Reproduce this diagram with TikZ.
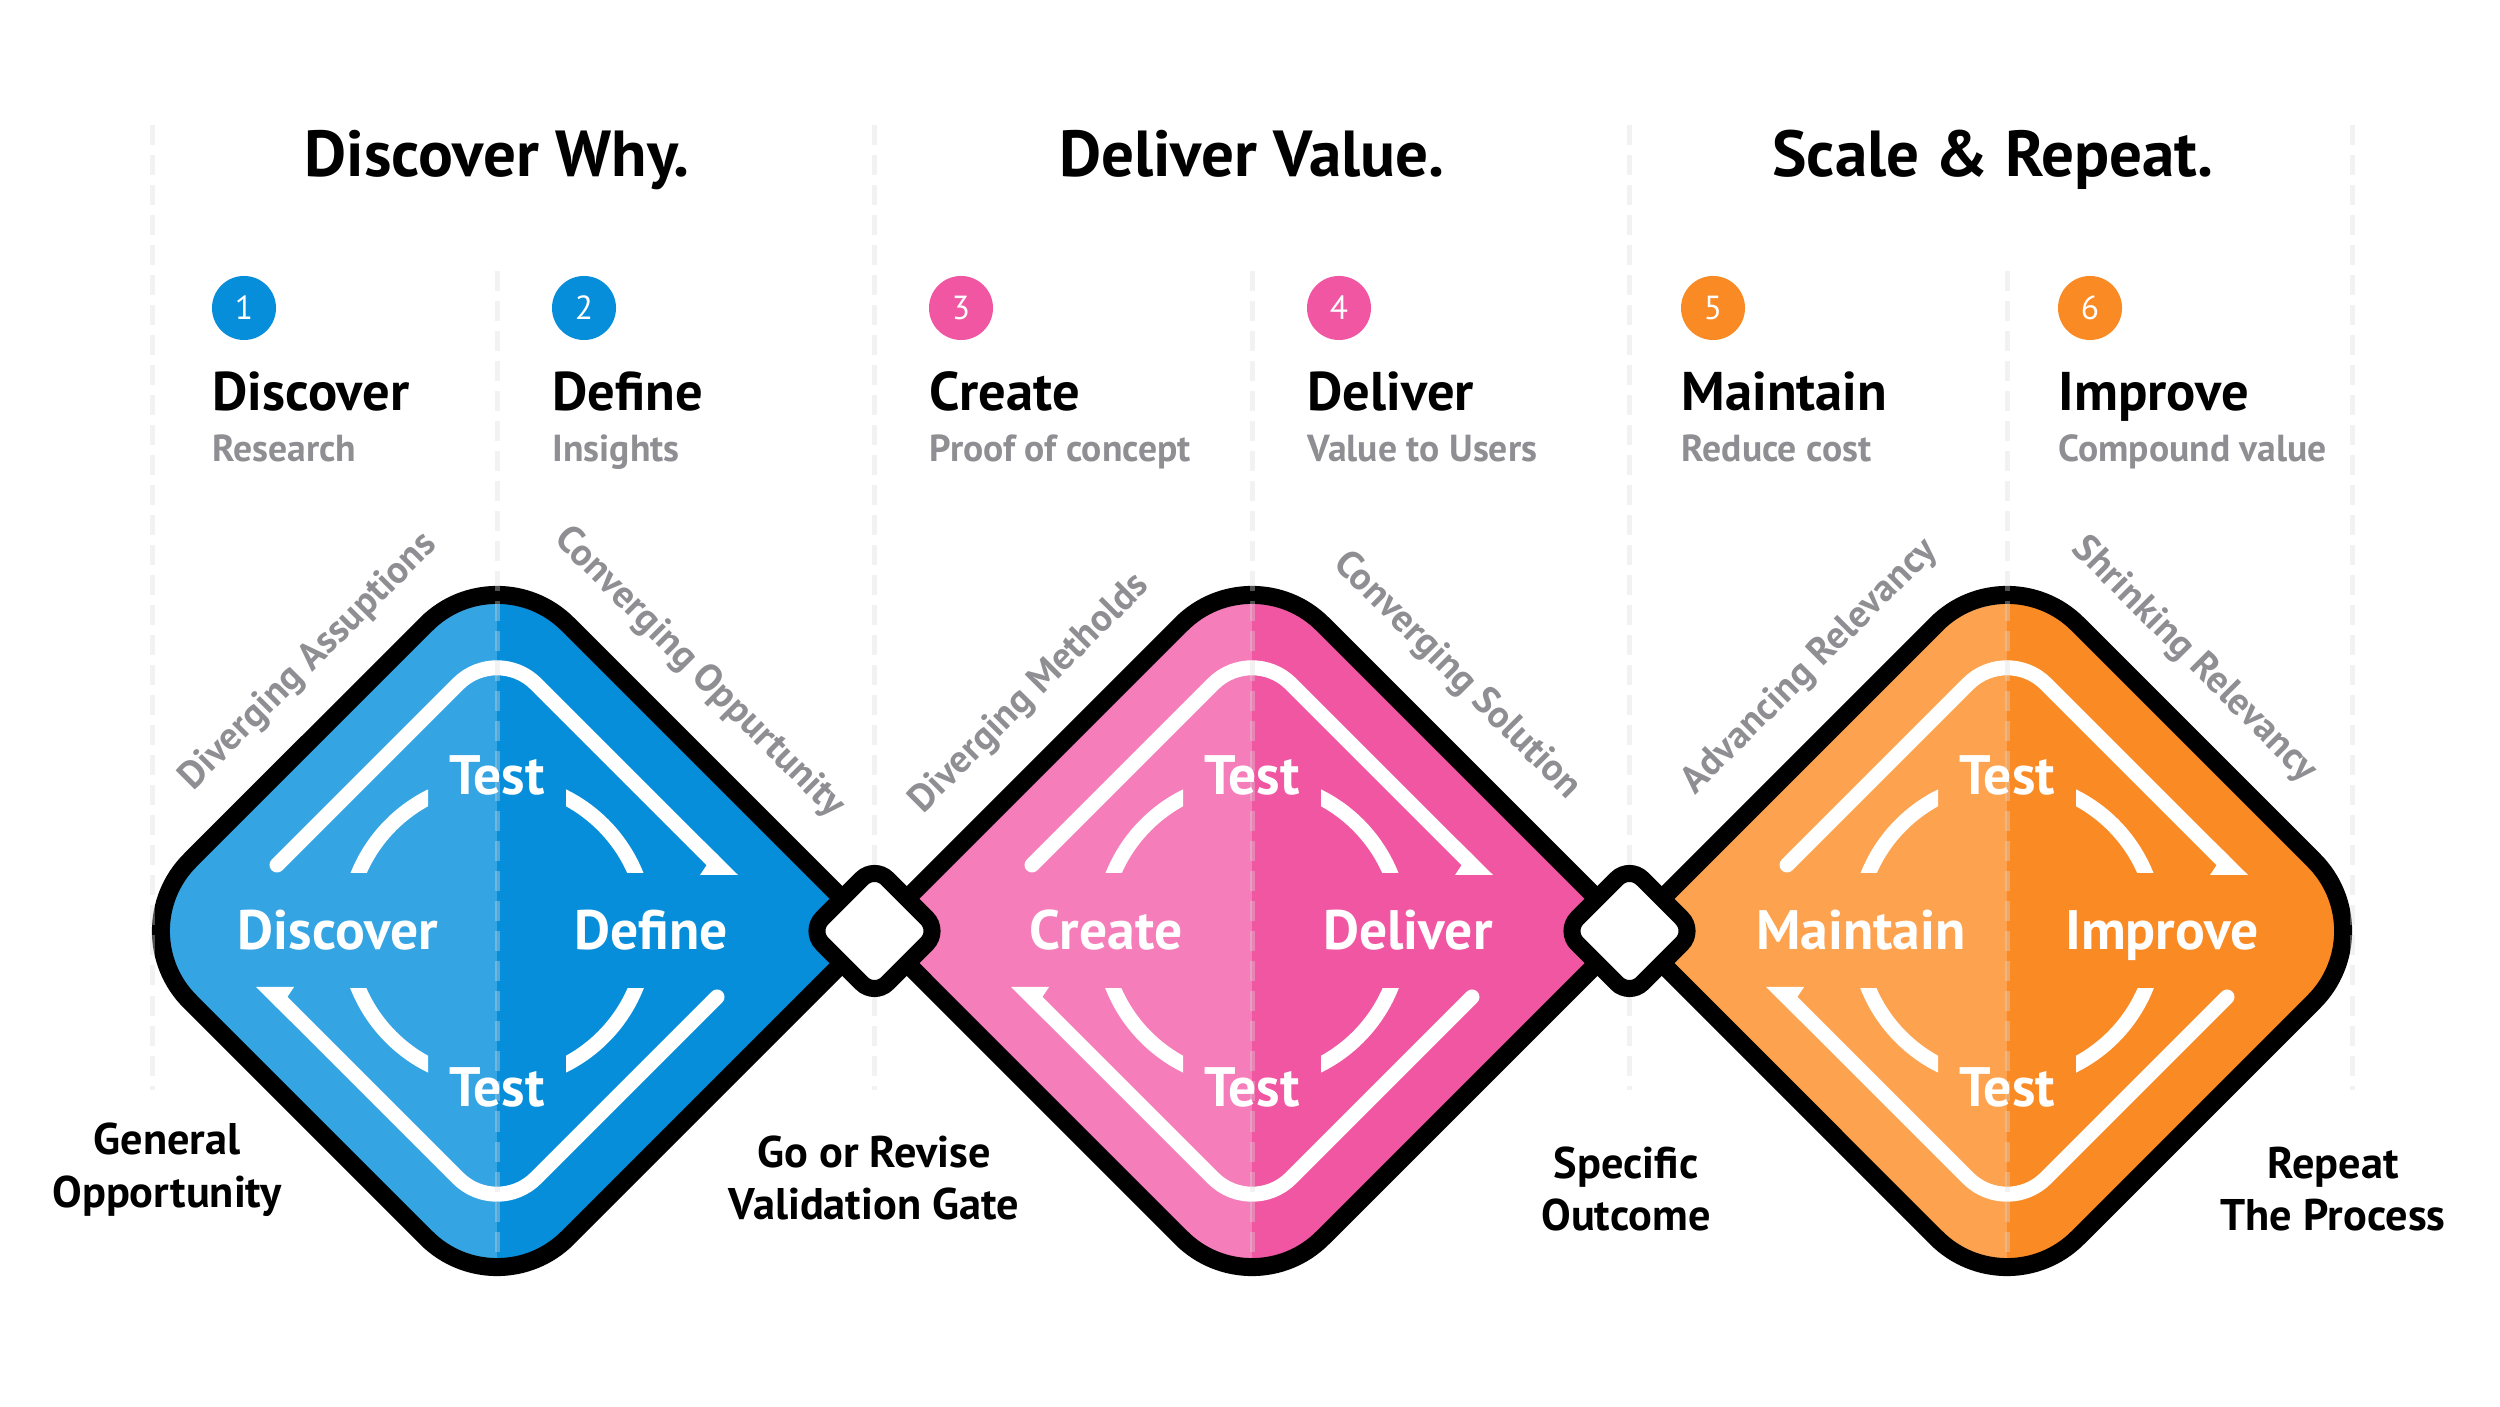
\documentclass[tikz,border=0pt]{standalone}
\usepackage{fontspec}
\setmainfont{PT Sans}
\usetikzlibrary{positioning}

\definecolor{blueL}{HTML}{35A4E3}
\definecolor{blueD}{HTML}{078EDB}
\definecolor{pinkL}{HTML}{F57DB9}
\definecolor{pinkD}{HTML}{F056A1}
\definecolor{orngL}{HTML}{FDA24E}
\definecolor{orngD}{HTML}{FA8A24}
\definecolor{txtgray}{HTML}{8E8E93}
\definecolor{guidegray}{HTML}{DBDBDB}

\tikzset{
  title/.style={font=\bfseries\fontsize{18.5}{22}\selectfont, anchor=base},
  stepname/.style={font=\bfseries\fontsize{15.5}{18}\selectfont, anchor=base west, inner sep=0},
  stepsub/.style={font=\bfseries\fontsize{10.7}{13}\selectfont, text=txtgray, anchor=base west, inner sep=0},
  numdot/.style={circle, minimum size=0.64cm, inner sep=0, text=white, font=\fontsize{9.5}{10}\selectfont},
  edgelabel/.style={font=\bfseries\fontsize{10.9}{12}\selectfont, text=txtgray},
  inlabel/.style={text=white, font=\bfseries\fontsize{15.8}{18}\selectfont, anchor=base, inner sep=0},
  endlabel/.style={align=center, font=\bfseries\fontsize{12.6}{15}\selectfont},
  outline/.style={black, line width=0.18cm, line join=round},
  loopline/.style={white, line width=0.15cm, line cap=round},
  joint/.style={fill=white, draw=black, line width=0.17cm, rounded corners=0.18cm},
  guide/.style={guidegray, opacity=0.36, line width=0.05cm, dash pattern=on 0.2cm off 0.1cm}
}

% corner pieces of a diamond (sharp at a joint, round at an outer end)
\def\sharpL{-- (-377.5,0)}
\def\roundL{-- (-306.8,-70.7) arc[start angle=-135, end angle=-225, radius=100]}
\def\sharpR{-- (377.5,0)}
\def\roundR{-- (306.8,70.7) arc[start angle=45, end angle=-45, radius=100]}

\begin{document}
\begin{tikzpicture}[x=0.01cm, y=0.01cm]
    \useasboundingbox[fill=white] (0,0) rectangle (2500,1406);

    % 1. The three phase titles
    \node[title] (ttl1) at (497,1229) {Discover Why.};
    \node[title] (ttl2) at (1252,1229) {Deliver Value.};
    \node[title] (ttl3) at (1993,1229) {Scale \& Repeat.};

    % 2. Numbered steps with name and short note
    \foreach \n/\x/\c/\name/\sub in {1/212/blueD/Discover/Research, 2/552/blueD/Define/Insights,
        3/929/pinkD/Create/Proof of concept, 4/1307/pinkD/Deliver/Value to Users,
        5/1681/orngD/Maintain/Reduce cost, 6/2058/orngD/Improve/Compound value} {
        \node[numdot, fill=\c] (num\n) at (\x+32,1098) {\n};
        \node[stepname] (step\n) at (\x,995) {\name};
        \node[stepsub] (note\n) at (\x,944) {\sub};
    }

    % 3. The three diamonds, two tones each, with the white test loop
    \foreach \cx/\lc/\dc/\lft/\rgt [count=\i] in {
        497/blueL/blueD/\roundL/\sharpR,
        1252/pinkL/pinkD/\sharpL/\sharpR,
        2007/orngL/orngD/\sharpL/\roundR} {
        \begin{scope}[shift={(\cx,475)}]
            \def\dpath{(-70.7,306.8) arc[start angle=135, end angle=45, radius=100] \rgt
                -- (70.7,-306.8) arc[start angle=-45, end angle=-135, radius=100] \lft -- cycle}
            \fill[\lc] \dpath;
            \begin{scope}
                \clip (0,-400) rectangle (400,400);
                \fill[\dc] \dpath;
            \end{scope}
            \draw[outline] \dpath;

            % outer loop: two halves with a half arrow head
            \foreach \r in {0,180} {
                \begin{scope}[rotate=\r]
                    \draw[loopline, rounded corners=0.55cm] (-220,66) -- (0,286) -- (216,70);
                    \fill[white] (203,56) -- (241,56) -- (206.6,90) -- (213,71) -- cycle;
                \end{scope}
            }
            % inner circle broken into four arcs
            \foreach \sx in {-1,1} {
                \foreach \sy in {-1,1} {
                    \begin{scope}
                        \clip (69*\sx,58*\sy) rectangle (300*\sx,300*\sy);
                        \draw[loopline, line cap=butt] (0,0) circle (150);
                    \end{scope}
                }
            }
        \end{scope}
    }

    % 4. Dashed guide lines of the columns
    \foreach \x in {152, 874.5, 1629.5, 2352} {
        \draw[guide] (\x,1281) -- (\x,316);
    }
    \foreach \x in {497, 1252, 2007} {
        \draw[guide] (\x,1135) -- (\x,148);
    }

    % 5. Joints between the diamonds
    \foreach \x [count=\j] in {874.5, 1629.5} {
        \draw[joint] (\x-65,475) -- (\x,540) -- (\x+65,475) -- (\x,410) -- cycle;
        \coordinate (gate\j) at (\x,475);
    }

    % 6. Texts inside the diamonds
    \foreach \cx/\ln/\lx/\rn/\rx [count=\i] in {497/Discover/-159/Define/154,
        1252/Create/-146/Deliver/156, 2007/Maintain/-146/Improve/155} {
        \node[inlabel] (lft\i) at (\cx+\lx,456) {\ln};
        \node[inlabel] (rgt\i) at (\cx+\rx,456) {\rn};
        \node[inlabel] (tsta\i) at (\cx,611.5) {Test};
        \node[inlabel] (tstb\i) at (\cx,299.5) {Test};
    }

    % 7. Labels along the upper edges
    \foreach \x/\y/\a/\txt [count=\k] in {309/744/45/Diverging Assuptions, 699/733/-45/Converging Oppurtunity,
        1030/712/45/Diverging Metholds, 1457/730/-45/Converging Solution,
        1810/739/45/Advancing Relevancy, 2194/746/-45/Shrinking Relevancy} {
        \node[edgelabel, rotate=\a] (edge\k) at (\x,\y) {\txt};
    }

    % 8. Labels at the ends and the gates
    \node[endlabel] (start) at (167,236) {General\\Opportunity};
    \node[endlabel] (gatetxt1) at (874,228) {Go or Revise\\Validation Gate};
    \node[endlabel] (gatetxt2) at (1626,217) {Specific\\Outcome};
    \node[endlabel] (finish) at (2333,217) {Repeat\\The Process};

\end{tikzpicture}
\end{document}
